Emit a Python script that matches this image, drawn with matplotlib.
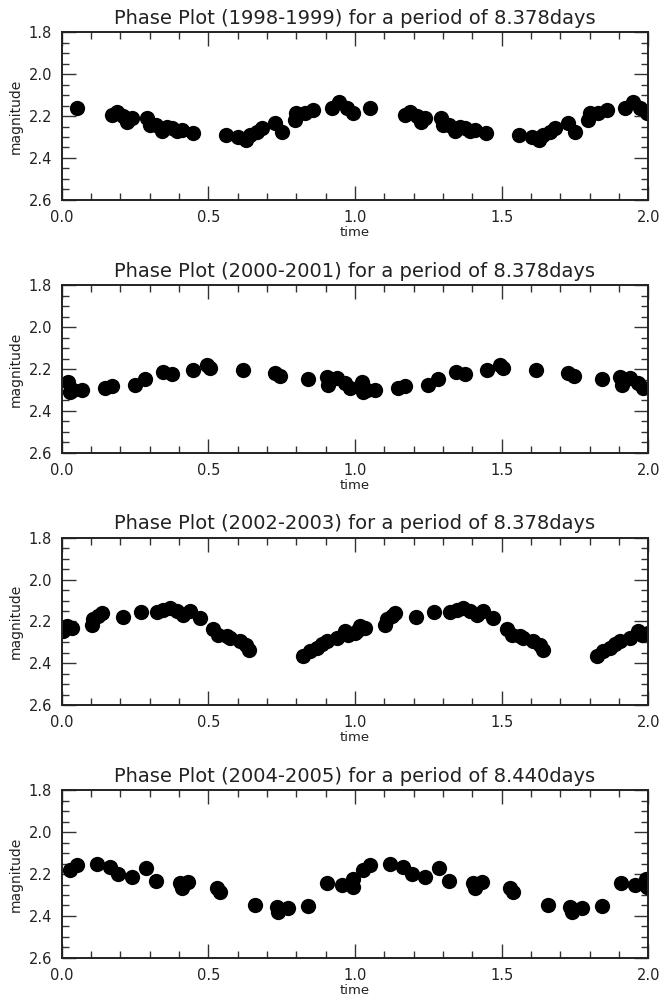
import numpy as np
import matplotlib
matplotlib.use("Agg")
import matplotlib.pyplot as plt
from matplotlib.ticker import MultipleLocator, FormatStrFormatter

# phase / magnitude readings for one cycle of each season
titles = ["Phase Plot (1998-1999) for a period of 8.378days",
          "Phase Plot (2000-2001) for a period of 8.378days",
          "Phase Plot (2002-2003) for a period of 8.378days",
          "Phase Plot (2004-2005) for a period of 8.440days"]

phase_9899 = [0.051, 0.170, 0.188, 0.210, 0.224, 0.239, 0.292, 0.301, 0.322, 0.341,
              0.358, 0.375, 0.392, 0.409, 0.447, 0.559, 0.602, 0.628, 0.642, 0.665,
              0.682, 0.727, 0.750, 0.795, 0.800, 0.830, 0.858, 0.920, 0.947, 0.972,
              0.994]
mag_9899 = [2.163, 2.195, 2.182, 2.198, 2.227, 2.211, 2.211, 2.243, 2.243, 2.271,
            2.250, 2.259, 2.271, 2.267, 2.282, 2.290, 2.298, 2.314, 2.290, 2.275,
            2.259, 2.235, 2.275, 2.219, 2.187, 2.187, 2.171, 2.163, 2.134, 2.160,
            2.187]

phase_0001 = [0.023, 0.028, 0.040, 0.068, 0.148, 0.170, 0.250, 0.284, 0.344, 0.375,
              0.449, 0.494, 0.506, 0.617, 0.727, 0.745, 0.841, 0.903, 0.909, 0.938,
              0.966, 0.983]
mag_0001 = [2.260, 2.308, 2.300, 2.300, 2.290, 2.281, 2.276, 2.247, 2.212, 2.225,
            2.204, 2.180, 2.195, 2.204, 2.220, 2.235, 2.247, 2.236, 2.276, 2.244,
            2.267, 2.292]

phase_0203 = [0.006, 0.017, 0.034, 0.102, 0.108, 0.125, 0.136, 0.208, 0.270, 0.324,
              0.347, 0.369, 0.392, 0.415, 0.438, 0.470, 0.517, 0.534, 0.563, 0.574,
              0.608, 0.630, 0.640, 0.824, 0.847, 0.869, 0.886, 0.903, 0.938, 0.966,
              0.977, 1.000]
mag_0203 = [2.247, 2.223, 2.231, 2.215, 2.190, 2.176, 2.160, 2.180, 2.155, 2.155,
            2.144, 2.136, 2.149, 2.171, 2.152, 2.184, 2.236, 2.263, 2.270, 2.279,
            2.291, 2.313, 2.334, 2.366, 2.342, 2.326, 2.310, 2.294, 2.279, 2.244,
            2.263, 2.255]

phase_0405 = [0.028, 0.051, 0.119, 0.165, 0.193, 0.239, 0.288, 0.322, 0.403, 0.409,
              0.432, 0.528, 0.540, 0.659, 0.733, 0.739, 0.773, 0.841, 0.906, 0.955,
              0.992, 0.994]
mag_0405 = [2.181, 2.157, 2.154, 2.165, 2.201, 2.212, 2.173, 2.233, 2.244, 2.268,
            2.236, 2.268, 2.284, 2.348, 2.356, 2.380, 2.364, 2.352, 2.244, 2.252,
            2.224, 2.260]

phases = [phase_9899, phase_0001, phase_0203, phase_0405]
mags = [mag_9899, mag_0001, mag_0203, mag_0405]

W, H = 667, 999
fig = plt.figure(figsize=(W / 100., H / 100.), dpi=100)

# axes boxes in pixels
left, right = 61.7, 648.3
tops = [32.3, 285.3, 537.7, 790.3]
height = 167.5

for i in range(4):
    top = tops[i]
    ax = fig.add_axes([left / W, 1 - (top + height) / H, (right - left) / W, height / H])

    # phase plot: show two cycles
    p = np.array(phases[i])
    m = np.array(mags[i])
    ax.plot(np.concatenate([p, p + 1.0]), np.concatenate([m, m]), 'o',
            color='black', ms=11, mec='black', mew=0)

    ax.set_xlim(0.0, 2.0)
    ax.set_ylim(2.6, 1.8)
    ax.xaxis.set_major_locator(MultipleLocator(0.5))
    ax.xaxis.set_minor_locator(MultipleLocator(0.1))
    ax.yaxis.set_major_locator(MultipleLocator(0.2))
    ax.yaxis.set_minor_locator(MultipleLocator(0.05))
    ax.tick_params(which='both', direction='in', top=True, right=True,
                   color='#333333', width=1.0)
    ax.tick_params(which='major', length=10, labelsize=10.5, pad=7,
                   labelcolor='#222222')
    ax.tick_params(which='minor', length=5)
    ax.yaxis.set_major_formatter(FormatStrFormatter('%.1f'))
    ax.xaxis.set_major_formatter(FormatStrFormatter('%.1f'))
    for s in ax.spines.values():
        s.set_linewidth(1.4)
        s.set_color('#222222')

    ax.set_title(titles[i], fontsize=14, color='#222222', pad=6)
    ax.set_xlabel('time', fontsize=9.5, color='#222222', labelpad=1)
    ax.set_ylabel('magnitude', fontsize=10, color='#222222', labelpad=4)

plt.savefig('out.png', dpi=100)
plt.close()
